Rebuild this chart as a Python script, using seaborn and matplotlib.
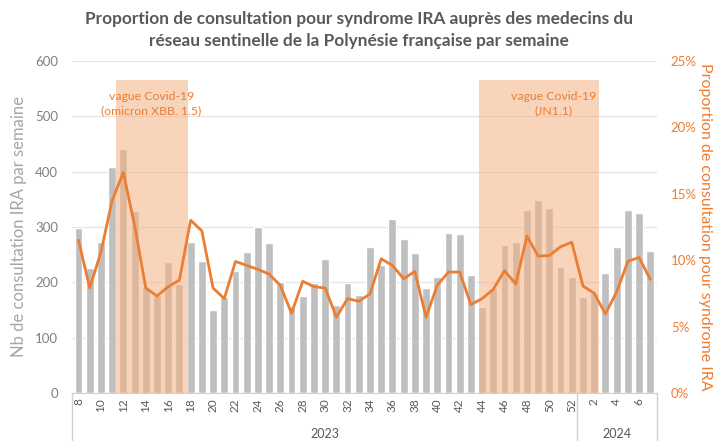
import numpy as np
import pandas as pd
import matplotlib
matplotlib.use("Agg")
import matplotlib.pyplot as plt
import matplotlib.transforms as mtransforms
import seaborn as sns

# Weekly data: weeks 8-52 of 2023 then 1-7 of 2024
weeks_2023 = list(range(8, 53))
weeks_2024 = list(range(1, 8))
nb_consult = [298, 225, 273, 409, 440, 329, 192, 177, 237, 197,
              273, 239, 150, 174, 221, 255, 299, 270, 201, 157,
              175, 199, 242, 158, 199, 177, 264, 231, 314, 278,
              253, 189, 210, 289, 287, 213, 156, 190, 267, 272,
              331, 348, 334, 228, 210,
              173, 181, 216, 264, 331, 325, 256]
prop_ira = [11.5, 7.9, 10.6, 14.5, 16.6, 12.6, 7.9, 7.3, 8.0, 8.5,
            13.0, 12.2, 7.9, 7.1, 9.9, 9.6, 9.3, 8.95, 8.1, 6.0,
            8.4, 8.0, 7.9, 5.7, 7.1, 6.9, 7.45, 10.1, 9.6, 8.6,
            9.15, 5.7, 8.1, 9.1, 9.1, 6.65, 7.1, 7.8, 9.2, 8.2,
            11.8, 10.3, 10.35, 11.0, 11.35,
            8.05, 7.5, 5.95, 7.6, 9.9, 10.2, 8.55]

# Covid waves: start, end (bar positions), label x, label
waves = [(3.3, 9.8, 6.5, "vague Covid-19\n(omicron XBB. 1.5)"),
         (35.7, 46.4, 42.4, "vague Covid-19\n(JN1.1)")]
wave_top = 565

labels = [f"2023-{w}" for w in weeks_2023] + [f"2024-{w}" for w in weeks_2024]
week_nums = weeks_2023 + weeks_2024
df = pd.DataFrame({"semaine": labels, "nb": nb_consult, "prop": prop_ira})

sns.set_style("white")
plt.rcParams["font.family"] = ["Lato", "DejaVu Sans"]

orange = "#ED7D31"
grey_txt = "#808080"

fig = plt.figure(figsize=(7.18, 4.41), dpi=100)
ax = fig.add_axes([0.100, 0.109, 0.815, 0.753])

sns.barplot(data=df, x="semaine", y="nb", order=labels, color="#BFBFBF",
            saturation=1, width=0.7, ax=ax, zorder=2)

for x0, x1, xt, txt in waves:
    ax.fill_between([x0, x1], 0, wave_top, color="#F4B183", alpha=0.55,
                    lw=0, zorder=3)
    ax.text(xt, 523, txt, color=orange, fontsize=8.8, ha="center",
            va="center", linespacing=1.35, zorder=5)

ax.set_ylim(0, 600)
ax.set_yticks(range(0, 601, 100))
ax.set_xlim(-0.6, 51.6)
ax.yaxis.grid(True, color="#E6E6E6", lw=1)
ax.set_axisbelow(True)
for s in ["top", "right", "left"]:
    ax.spines[s].set_visible(False)
ax.spines["bottom"].set_color("#D0D0D0")

pos = np.arange(len(labels))
ax.set_xticks(pos[::2])
ax.set_xticklabels([str(w) for w in week_nums[::2]], rotation=90,
                   fontsize=8.5, color="#595959")
ax.tick_params(axis="x", length=0, pad=4)
ax.tick_params(axis="y", labelsize=9.5, labelcolor=grey_txt, length=0, pad=10)
ax.set_xlabel("")
ax.set_ylabel("Nb de consultation IRA par semaine", fontsize=12,
              color="#A6A6A6", labelpad=6)

# year groups under the week labels
trans = mtransforms.blended_transform_factory(ax.transData, ax.transAxes)
for xv in [-0.6, 44.5, 51.6]:
    ax.plot([xv, xv], [0, -0.15], transform=trans, color="#D0D0D0", lw=1,
            clip_on=False)
ax.text(22, -0.125, "2023", transform=trans, ha="center", va="center",
        fontsize=9, color="#595959")
ax.text(48, -0.125, "2024", transform=trans, ha="center", va="center",
        fontsize=9, color="#595959")

ax2 = ax.twinx()
sns.lineplot(x=pos, y=df["prop"], color=orange, lw=2, ax=ax2, zorder=6)
ax2.set_ylim(0, 25)
ax2.set_yticks(range(0, 26, 5))
ax2.set_yticklabels([f"{v}%" for v in range(0, 26, 5)])
ax2.tick_params(axis="y", labelsize=9.5, labelcolor=orange, length=0, pad=10)
ax2.set_ylabel("Proportion de consultation pour syndrome IRA", fontsize=11.5,
               color=orange, rotation=270, labelpad=11)
for s in ax2.spines.values():
    s.set_visible(False)
ax2.grid(False)

fig.suptitle("Proportion de consultation pour syndrome IRA auprès des medecins du\n"
             "réseau sentinelle de la Polynésie française par semaine",
             fontsize=12.4, fontweight="bold", color="#595959", y=0.975,
             linespacing=1.45)

fig.savefig("out.png", dpi=100)
